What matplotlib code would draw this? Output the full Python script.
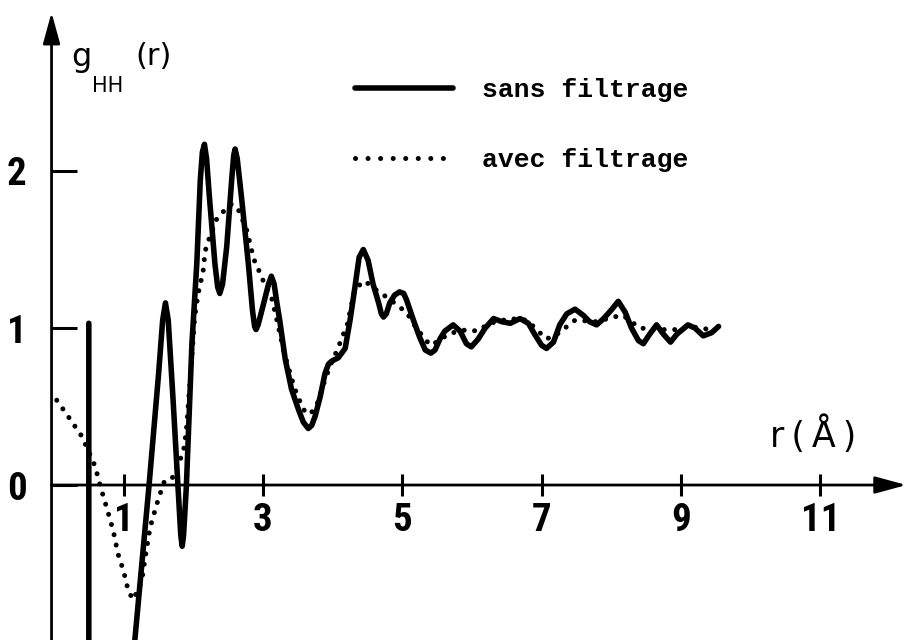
import matplotlib
matplotlib.use("Agg")
import matplotlib.pyplot as plt
from matplotlib.lines import Line2D

# g_HH(r) computed without filtering (solid line)
r_sans = [0.50, 0.50, 0.75, 0.95, 1.16, 1.365, 1.50, 1.56, 1.60, 1.64, 1.71, 1.78, 1.82,
          1.84, 1.86, 1.90, 1.98, 2.05, 2.10, 2.13, 2.16, 2.19, 2.23, 2.31, 2.35, 2.38,
          2.42, 2.48, 2.55, 2.58, 2.60, 2.63, 2.69, 2.79, 2.85, 2.88, 2.90, 2.93, 3.00,
          3.08, 3.12, 3.16, 3.20, 3.24, 3.32, 3.41, 3.51, 3.58, 3.65, 3.70, 3.75, 3.82,
          3.89, 3.94, 3.99, 4.08, 4.18, 4.25, 4.32, 4.38, 4.44, 4.51, 4.58, 4.66, 4.70,
          4.73, 4.77, 4.82, 4.89, 4.96, 5.02, 5.06, 5.16, 5.25, 5.33, 5.41, 5.47, 5.54,
          5.61, 5.73, 5.83, 5.92, 5.99, 6.09, 6.19, 6.31, 6.43, 6.55, 6.69, 6.81, 6.90,
          7.00, 7.07, 7.17, 7.26, 7.36, 7.48, 7.60, 7.69, 7.79, 7.89, 8.01, 8.10, 8.20,
          8.29, 8.39, 8.46, 8.55, 8.65, 8.75, 8.85, 8.94, 9.10, 9.20, 9.32, 9.44, 9.54]
g_sans = [1.03, -2.40, -2.60, -2.00, -0.99, 0.00, 0.70, 1.05, 1.16, 1.05, 0.54, -0.01, -0.32,
          -0.39, -0.32, -0.01, 0.90, 1.41, 1.94, 2.12, 2.17, 2.08, 1.84, 1.41, 1.26, 1.22,
          1.28, 1.52, 1.94, 2.10, 2.14, 2.08, 1.84, 1.41, 1.11, 1.01, 0.99, 1.02, 1.14,
          1.28, 1.33, 1.28, 1.16, 1.05, 0.80, 0.61, 0.48, 0.40, 0.36, 0.38, 0.44, 0.56,
          0.71, 0.77, 0.79, 0.81, 0.87, 1.05, 1.26, 1.45, 1.50, 1.43, 1.28, 1.16, 1.09,
          1.07, 1.09, 1.16, 1.21, 1.23, 1.22, 1.18, 1.05, 0.94, 0.86, 0.84, 0.86, 0.93,
          0.98, 1.02, 0.98, 0.90, 0.88, 0.93, 1.00, 1.06, 1.04, 1.03, 1.06, 1.03, 0.96,
          0.89, 0.87, 0.91, 1.02, 1.09, 1.12, 1.08, 1.04, 1.02, 1.06, 1.12, 1.17, 1.10,
          1.00, 0.92, 0.90, 0.96, 1.02, 0.96, 0.91, 0.96, 1.02, 1.00, 0.95, 0.97, 1.01]

# g_HH(r) computed with filtering (dotted line)
r_avec = [0.04, 0.23, 0.40, 0.47, 0.59, 0.66, 0.76, 0.85, 0.92, 1.00, 1.07, 1.14, 1.26,
          1.31, 1.38, 1.47, 1.52, 1.59, 1.71, 1.81, 1.86, 1.90, 1.96, 2.02, 2.07, 2.14,
          2.17, 2.22, 2.34, 2.45, 2.55, 2.65, 2.77, 2.84, 2.89, 2.96, 3.03, 3.12, 3.20,
          3.30, 3.45, 3.58, 3.68, 3.78, 3.89, 4.00, 4.08, 4.13, 4.20, 4.32, 4.46, 4.66,
          4.80, 4.94, 5.06, 5.20, 5.40, 5.49, 5.66, 5.80, 5.95, 6.07, 6.26, 6.55, 6.79,
          6.95, 7.07, 7.22, 7.48, 7.79, 8.03, 8.17, 8.41, 8.65, 8.94, 9.13, 9.42]
g_avec = [0.54, 0.42, 0.31, 0.24, 0.12, 0.00, -0.15, -0.29, -0.44, -0.55, -0.68, -0.73, -0.61,
          -0.46, -0.27, -0.13, -0.06, 0.03, 0.05, 0.16, 0.22, 0.35, 0.70, 1.07, 1.22, 1.36,
          1.49, 1.56, 1.70, 1.75, 1.79, 1.75, 1.62, 1.49, 1.41, 1.35, 1.27, 1.20, 1.05,
          0.85, 0.62, 0.48, 0.45, 0.52, 0.67, 0.80, 0.87, 0.94, 1.00, 1.25, 1.30, 1.23,
          1.19, 1.14, 1.10, 1.00, 0.89, 0.91, 0.96, 0.98, 0.99, 0.98, 1.03, 1.06, 1.05,
          0.98, 0.93, 0.96, 1.05, 1.04, 1.07, 1.08, 1.00, 0.99, 0.99, 1.01, 0.99]

x_ticks = [1, 3, 5, 7, 9, 11]
y_ticks = [0, 1, 2]
series_labels = ["sans filtrage", "avec filtrage"]

W, H = 907, 640
fig = plt.figure(figsize=(W / 100, H / 100), dpi=100)
fig.patch.set_facecolor("white")
ax = fig.add_axes([0, 0, 1, 1])
ax.patch.set_alpha(0)
ax.set_xlim(-0.775, 12.245)
ax.set_ylim(-0.987, 3.089)

# curves
ax.plot(r_sans, g_sans, color="black", lw=4.0,
        solid_joinstyle="round", solid_capstyle="round")
ax.plot(r_avec, g_avec, color="black", lw=3.6,
        linestyle=(0, (0.01, 2.1)), dash_capstyle="round")

# axes drawn as arrows through the origin
x_axis_pos = -0.035
for s in ax.spines.values():
    s.set_visible(False)
ax.spines["left"].set_position(("data", x_axis_pos))
ax.spines["bottom"].set_position(("data", 0))
arrow = dict(arrowstyle="-|>,head_length=0.95,head_width=0.26", lw=2.0,
             color="black", shrinkA=0, shrinkB=0, mutation_scale=20)
ax.annotate("", xy=(x_axis_pos, 3.01), xytext=(x_axis_pos, -0.987), arrowprops=arrow)
ax.annotate("", xy=(12.235, 0), xytext=(x_axis_pos, 0), arrowprops=arrow)

tick_font = dict(family=["Roboto Condensed", "DejaVu Sans"], weight="bold", size=28)
ax.set_xticks(x_ticks)
ax.set_xticklabels([str(t) for t in x_ticks], fontdict=tick_font)
ax.set_yticks(y_ticks)
ax.set_yticklabels([str(t) for t in y_ticks], fontdict=tick_font)
ax.tick_params(axis="x", direction="inout", length=16, width=2.2, pad=4)
ax.tick_params(axis="y", direction="in", length=18, width=2.2, pad=18)

# axis titles
def px(x, y):
    return x / W, 1 - y / H

fig.text(*px(71, 66), "g", fontsize=23, family="DejaVu Sans", va="baseline")
fig.text(*px(92, 92), "HH", fontsize=15, family="DejaVu Sans", va="baseline")
fig.text(*px(135, 65), "(r)", fontsize=22, family="DejaVu Sans", va="baseline")
fig.text(*px(813, 447), "r\u2009(\u2009Å\u2009)", fontsize=25, family="DejaVu Sans",
         va="baseline", ha="center")

# legend
handles = [Line2D([], [], color="black", lw=4.0, solid_capstyle="round"),
           Line2D([], [], color="black", lw=3.6, linestyle=(0, (0.01, 2.5)),
                  dash_capstyle="round")]
ax.legend(handles, series_labels, loc="upper left",
          bbox_to_anchor=px(355, 78), bbox_transform=fig.transFigure,
          frameon=False, borderpad=0, borderaxespad=0,
          handlelength=3.7, handletextpad=1.1, labelspacing=1.75,
          prop=dict(family="Liberation Mono", weight="bold", size=19))

fig.savefig("out.png", dpi=100, facecolor="white")
